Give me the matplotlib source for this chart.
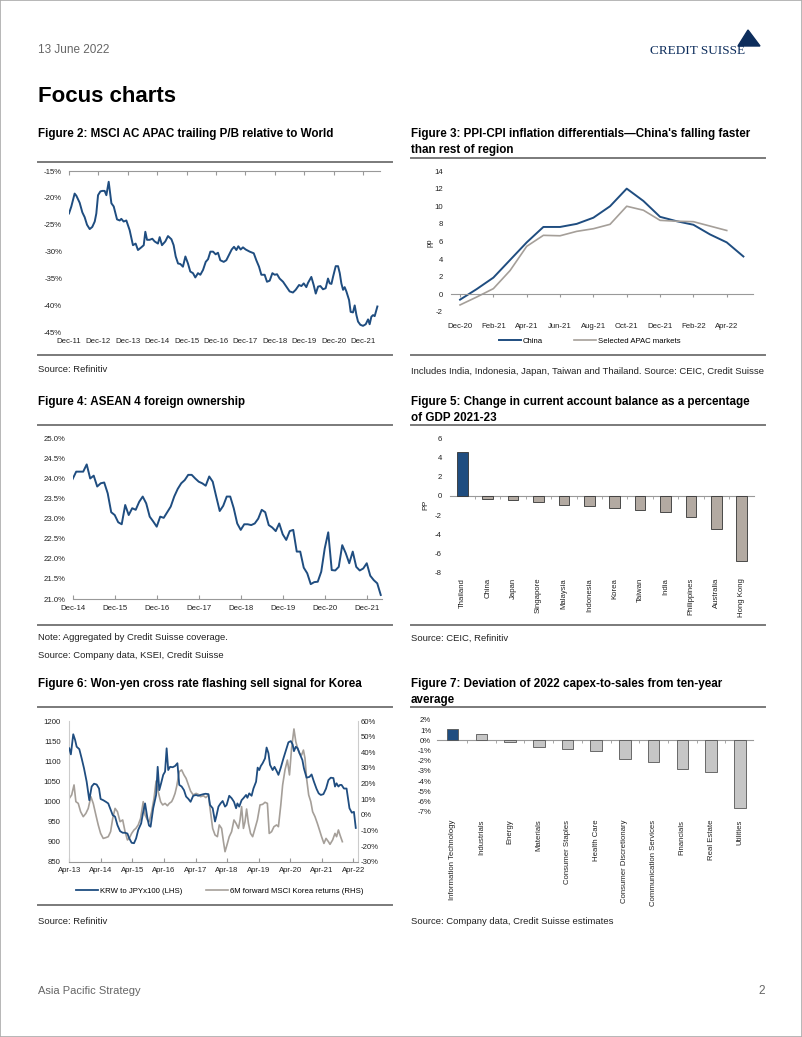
import numpy as np
import matplotlib
matplotlib.use("Agg")
import matplotlib.pyplot as plt
from matplotlib.lines import Line2D
from matplotlib.patches import Polygon, Rectangle

plt.rcParams['font.family'] = ['Liberation Sans', 'DejaVu Sans']
plt.rcParams['axes.unicode_minus'] = False

# ---------------- data ----------------
# Figure 2: MSCI AC APAC trailing P/B relative to World (months since Dec-11, %)
pb_month = [0, 0.95, 2.3, 3.0, 4.35, 5.45, 6.4, 7.35, 8.45, 9.5,
            10.5, 11.15, 11.85, 12.8, 13.6, 14.55, 15.25, 16.2, 17.3, 18.25,
            19.6, 20.7, 21.35, 22.3, 23.4, 24.75, 26.1, 27.2, 28.15, 29.5,
            30.5, 31.15, 31.85, 32.9, 34.0, 34.95, 36.3, 37.0, 37.95, 39.3,
            40.4, 41.8, 42.7, 43.55, 44.5, 45.45, 46.5, 47.5, 48.55, 49.5,
            50.6, 51.55, 52.65, 53.6, 54.7, 55.8, 56.75, 57.7, 58.8, 59.85,
            60.8, 61.75, 63.15, 64.2, 65.3, 66.4, 67.35, 68.3, 69.1, 70.05,
            71.0, 72.1, 73.75, 75.4, 76.45, 77.55, 78.5, 79.85, 80.8, 81.9,
            83.0, 83.95, 84.9, 85.95, 87.35, 88.7, 90.05, 91.4, 92.5, 93.9,
            94.85, 95.8, 96.85, 97.55, 98.9, 99.85, 100.7, 101.65, 102.6, 103.65,
            104.75, 105.7, 106.4, 107.1, 107.75, 108.85, 109.8, 110.5, 111.15, 111.85,
            112.5, 113.2, 114.3, 114.95, 115.9, 116.6, 117.3, 117.95, 118.9, 120.0,
            121.1, 122.05, 122.7, 123.4, 124.1, 124.75, 125.85]
pb_value = [-22.9, -21.6, -19.2, -19.6, -20.9, -22.7, -23.6, -25.0, -25.8, -25.4,
            -24.4, -22.9, -19.5, -18.8, -18.7, -18.7, -19.5, -17.0, -21.0, -21.6,
            -24.0, -24.2, -23.9, -24.4, -24.2, -26.0, -28.8, -28.5, -29.7, -29.2,
            -28.8, -26.3, -27.8, -27.8, -27.6, -28.1, -28.5, -27.3, -28.8, -28.1,
            -27.1, -27.7, -28.8, -30.9, -32.2, -32.3, -32.8, -30.9, -32.2, -33.7,
            -34.0, -34.8, -34.0, -34.3, -33.4, -31.9, -31.4, -30.0, -30.0, -30.5,
            -30.2, -31.6, -31.9, -31.6, -30.6, -29.6, -29.1, -29.7, -29.0, -29.6,
            -29.2, -29.6, -30.0, -30.3, -31.6, -32.8, -34.3, -34.3, -35.6, -35.4,
            -34.0, -34.3, -34.2, -35.0, -35.6, -36.5, -37.4, -37.6, -37.1, -36.2,
            -36.4, -35.9, -36.6, -35.8, -34.7, -36.2, -37.8, -36.5, -36.4, -37.0,
            -36.8, -35.0, -35.9, -36.0, -34.7, -32.7, -32.7, -34.0, -35.9, -37.1,
            -36.6, -37.4, -39.0, -41.2, -41.3, -40.0, -41.8, -43.0, -43.6, -43.8,
            -43.5, -42.6, -43.5, -42.1, -41.8, -42.0, -40.2]
pb_ticks = ['Dec-11', 'Dec-12', 'Dec-13', 'Dec-14', 'Dec-15', 'Dec-16',
            'Dec-17', 'Dec-18', 'Dec-19', 'Dec-20', 'Dec-21']

# Figure 3: PPI-CPI differential, monthly from Dec-20 (pp)
ppi_china = [-0.6, 0.6, 1.9, 3.9, 5.9, 7.65, 7.65, 8.0, 8.7, 10.0,
             12.0, 10.6, 8.8, 8.3, 7.9, 6.8, 5.9, 4.3]
ppi_apac = [-1.2, -0.3, 0.65, 2.7, 5.45, 6.7, 6.65, 7.15, 7.45, 7.95,
            10.0, 9.55, 8.4, 8.3, 8.25, 7.75, 7.25]
ppi_ticks = ['Dec-20', 'Feb-21', 'Apr-21', 'Jun-21', 'Aug-21', 'Oct-21',
             'Dec-21', 'Feb-22', 'Apr-22']

# Figure 4: ASEAN 4 foreign ownership, monthly from Dec-14 (%)
asean_value = [23.99, 24.17, 24.17, 24.17, 24.35, 24.0, 24.07, 23.8, 23.88, 23.9,
               23.63, 23.16, 23.09, 22.91, 22.86, 23.34, 23.09, 23.26, 23.22, 23.42,
               23.55, 23.38, 23.05, 22.93, 22.8, 23.05, 23.02, 23.16, 23.3, 23.55,
               23.74, 23.88, 23.96, 24.09, 24.09, 24.0, 23.92, 23.88, 23.82, 24.05,
               23.92, 23.55, 23.19, 23.32, 23.55, 23.55, 23.26, 22.88, 22.72, 22.86,
               22.86, 22.84, 22.88, 23.0, 23.22, 23.16, 22.84, 22.78, 22.69, 22.88,
               22.61, 22.47, 22.69, 22.72, 22.18, 22.18, 21.78, 21.64, 21.37, 21.42,
               21.43, 21.68, 22.26, 22.66, 21.72, 21.71, 21.8, 22.34, 22.14, 21.89,
               22.18, 21.8, 21.71, 21.76, 21.89, 21.58, 21.47, 21.39, 21.1]
asean_ticks = ['Dec-14', 'Dec-15', 'Dec-16', 'Dec-17', 'Dec-18',
               'Dec-19', 'Dec-20', 'Dec-21']

# Figure 5: change in current account balance 2021-23 (pp of GDP)
ca_country = ['Thailand', 'China', 'Japan', 'Singapore', 'Malaysia', 'Indonesia',
              'Korea', 'Taiwan', 'India', 'Philippines', 'Australia', 'Hong Kong']
ca_change = [4.6, -0.35, -0.45, -0.6, -0.95, -1.05, -1.25, -1.45, -1.65,
             -2.15, -3.4, -6.8]

# Figure 6: KRW to JPYx100 (LHS) and 6M fwd MSCI Korea returns (RHS), months since Apr-13
krw_month = [0, 0.6, 1.5, 2.2, 2.8, 3.8, 4.7, 5.6, 6.6, 7.6,
             8.5, 9.4, 10.4, 11.3, 11.9, 12.9, 13.9, 14.8, 15.5, 16.5,
             17.4, 18.3, 19.3, 20.3, 21.2, 22.1, 22.8, 23.7, 24.6, 25.4,
             26.2, 27.3, 28.1, 28.8, 29.7, 30.3, 30.9, 31.9, 33.0, 33.6,
             34.2, 34.9, 35.7, 36.4, 37.0, 37.6, 38.3, 39.3, 40.2, 41.1,
             41.8, 42.7, 43.6, 44.4, 45.3, 46.1, 47.1, 48.2, 49.0, 49.9,
             51.0, 51.8, 52.9, 53.5, 54.5, 55.4, 56.0, 56.7, 57.5, 58.3,
             59.2, 59.8, 60.8, 61.7, 62.6, 63.4, 63.9, 64.6, 65.5, 66.2,
             67.2, 67.7, 68.4, 69.3, 70.0, 71.0, 71.6, 72.2, 72.8, 73.5,
             74.4, 75.0, 75.7, 76.3, 77.3, 78.0, 78.8, 79.5, 80.4, 81.4,
             82.4, 83.3, 84.2, 84.9, 85.4, 86.1, 86.8, 87.7, 88.6, 89.2,
             90.2, 91.3, 92.1, 93.0, 94.0, 94.8, 95.6, 96.6, 97.6, 98.5,
             99.4, 100.4, 101.0, 101.6, 102.3, 102.9, 103.5, 104.4, 105.4, 106.5,
             107.4, 108.2, 108.9]
krw_value = [1132, 1117, 1167, 1153, 1136, 1130, 1107, 1082, 1049, 1003,
             1037, 1044, 1042, 1032, 1006, 1003, 999, 995, 983, 966,
             962, 941, 926, 922, 922, 920, 908, 897, 896, 908,
             929, 945, 974, 995, 958, 940, 937, 983, 1016, 1086,
             1028, 1045, 1066, 1074, 1132, 1078, 1086, 1085, 1088, 1095,
             1041, 1037, 1028, 1012, 1006, 999, 1014, 1016, 1014, 1016,
             1018, 1019, 1018, 991, 983, 950, 966, 987, 995, 1001,
             987, 991, 1014, 1008, 999, 983, 995, 987, 1003, 1008,
             1016, 1009, 1020, 1014, 1032, 1049, 1084, 1078, 1088, 1095,
             1107, 1134, 1120, 1091, 1078, 1086, 1076, 1066, 1084, 1107,
             1128, 1147, 1150, 1142, 1125, 1136, 1132, 1117, 1103, 1082,
             1059, 1061, 1067, 1049, 1031, 1020, 1016, 1018, 1032, 1053,
             1059, 1058, 1037, 1045, 1037, 1041, 1041, 1032, 1032, 983,
             972, 974, 934]
kor_month = [0, 0.9, 1.8, 2.5, 3.4, 4.3, 5.3, 6.3, 7.2, 8.2,
             9.1, 10.1, 11.0, 11.9, 12.9, 13.9, 14.8, 15.7, 16.5, 17.4,
             18.3, 19.3, 20.3, 21.2, 22.1, 22.8, 23.7, 24.6, 25.3, 26.2,
             27.1, 28.1, 28.8, 29.7, 30.4, 31.3, 32.2, 33.0, 33.8, 34.7,
             35.5, 36.4, 37.3, 38.0, 38.9, 39.5, 40.2, 40.8, 41.8, 42.7,
             43.6, 44.4, 45.2, 46.1, 47.1, 48.2, 49.0, 49.9, 51.0, 51.9,
             52.9, 53.5, 54.5, 55.4, 56.3, 57.0, 57.9, 58.6, 59.2, 60.1,
             60.8, 61.7, 62.6, 63.4, 64.3, 64.9, 65.5, 66.2, 66.8, 67.4,
             68.1, 68.9, 69.7, 70.6, 71.5, 72.5, 73.5, 74.4, 75.3, 76.0,
             76.9, 77.8, 78.8, 79.5, 80.4, 81.1, 82.0, 82.9, 83.7, 84.5,
             85.4, 86.1, 86.8, 87.5, 88.3, 89.0, 89.6, 90.2, 91.0, 91.8,
             92.5, 93.4, 94.3, 95.1, 95.9, 96.8, 97.6, 98.5, 99.1, 100.1,
             101.0, 101.6, 102.3, 102.9, 103.8]
kor_return = [10.5, 12.7, 19.1, 8.4, 7.3, 2.0, -1.2, 0.9, 4.1, 11.6,
              7.3, -0.1, -6.5, -11.9, -15.1, -14.6, -14.0, -10.8, -2.3, 4.1,
              2.0, -4.4, -3.3, -10.8, -16.1, -15.1, -11.9, -9.7, -8.7, -6.5,
              -2.3, 8.4, -0.1, -3.3, -4.4, 2.0, 10.5, 21.6, 14.8, 8.4,
              6.3, 7.3, 5.8, 7.3, 8.4, 10.5, 13.7, 18.0, 27.6, 28.7,
              25.5, 23.3, 19.5, 15.2, 12.7, 13.7, 13.1, 11.6, 12.2, 11.0,
              12.7, 4.1, -8.7, -12.9, -14.0, -6.5, -8.7, -17.2, -23.6, -18.3,
              -14.0, -10.8, -3.3, -5.5, -8.7, -3.3, 5.2, -8.7, -4.4, 3.7,
              -5.5, -11.9, -14.0, -8.7, -3.3, 6.3, 6.7, 8.0, 7.3, -11.9,
              -10.8, -7.6, -6.5, -7.6, 6.3, 19.1, 28.7, 35.0, 25.5, 42.5,
              54.9, 46.8, 42.5, 39.3, 38.2, 41.4, 36.1, 23.3, 12.7, 8.4,
              2.0, -1.2, -5.5, -9.7, -14.0, -18.3, -15.1, -17.2, -18.9, -16.1,
              -11.9, -14.0, -9.7, -12.9, -17.2]
krw_ticks = ['Apr-13', 'Apr-14', 'Apr-15', 'Apr-16', 'Apr-17', 'Apr-18',
             'Apr-19', 'Apr-20', 'Apr-21', 'Apr-22']

# Figure 7: deviation of 2022 capex-to-sales from ten-year average (%)
capex_sector = ['Information Technology', 'Industrials', 'Energy', 'Materials',
                'Consumer Staples', 'Health Care', 'Consumer Discretionary',
                'Communication Services', 'Financials', 'Real Estate', 'Utilities']
capex_dev = [1.1, 0.6, -0.2, -0.65, -0.85, -1.0, -1.85, -2.15, -2.8, -3.15, -6.6]

# ---------------- page layout ----------------
W, H = 802, 1037
NAVY = '#1f4d80'
GREY_LINE = '#a59f99'
TXT = '#222222'
TICK = 5.6

fig = plt.figure(figsize=(W / 100, H / 100), dpi=100)


def px_axes(x0, y0, x1, y1):
    return fig.add_axes([x0 / W, 1 - y1 / H, (x1 - x0) / W, (y1 - y0) / H])


def ptext(x, y, s, **kw):
    kw.setdefault('va', 'center')
    fig.text(x / W, 1 - y / H, s, **kw)


def hline(x0, x1, y, color='#7a7a7a', lw=1.4):
    fig.add_artist(Line2D([x0 / W, x1 / W], [1 - y / H, 1 - y / H], color=color, lw=lw))


def clean(ax, keep=()):
    for s in ['left', 'right', 'top', 'bottom']:
        ax.spines[s].set_visible(s in keep)
        ax.spines[s].set_color('#999999')
        ax.spines[s].set_linewidth(0.8)
    ax.tick_params(labelsize=TICK, colors=TXT)
    ax.patch.set_alpha(0)


# page frame
fig.add_artist(Rectangle((0, 0), 1, 1, transform=fig.transFigure, fill=False,
                         edgecolor='#aaaaaa', lw=1.2))

# header / footer
ptext(38, 50, '13 June 2022', fontsize=8.5, color='#666666')
ptext(745, 51, 'CREDIT SUISSE', fontsize=9.5, color='#0d2d5c', ha='right',
      family=['Liberation Serif', 'DejaVu Serif'])
fig.add_artist(Polygon([[738 / W, 1 - 46 / H], [748 / W, 1 - 30 / H], [760 / W, 1 - 46 / H]],
                       closed=True, transform=fig.transFigure, color='#0d2d5c'))
ptext(38, 97, 'Focus charts', fontsize=16, fontweight='bold')
ptext(38, 991, 'Asia Pacific Strategy', fontsize=8, color='#666666')
ptext(765, 991, '2', fontsize=8.5, color='#666666', ha='right')

L0, L1, R0, R1 = 38, 392, 411, 765
TFS = 8.4
SFS = 6.8

# titles and rules
ptext(L0, 134, 'Figure 2: MSCI AC APAC trailing P/B relative to World', fontsize=TFS, fontweight='bold')
ptext(R0, 134, "Figure 3: PPI-CPI inflation differentials\u2014China's falling faster", fontsize=TFS, fontweight='bold')
ptext(R0, 150, 'than rest of region', fontsize=TFS, fontweight='bold')
hline(L0, L1, 162)
hline(R0, R1, 158)
hline(L0, L1, 355)
hline(R0, R1, 355)
ptext(L0, 370, 'Source: Refinitiv', fontsize=SFS, color=TXT)
ptext(R0, 371, 'Includes India, Indonesia, Japan, Taiwan and Thailand. Source: CEIC, Credit Suisse',
      fontsize=SFS, color=TXT)

ptext(L0, 402, 'Figure 4: ASEAN 4 foreign ownership', fontsize=TFS, fontweight='bold')
ptext(R0, 402, 'Figure 5: Change in current account balance as a percentage', fontsize=TFS, fontweight='bold')
ptext(R0, 418, 'of GDP 2021-23', fontsize=TFS, fontweight='bold')
hline(L0, L1, 425)
hline(R0, R1, 425)
hline(L0, L1, 625)
hline(R0, R1, 625)
ptext(L0, 638, 'Note: Aggregated by Credit Suisse coverage.', fontsize=SFS, color=TXT)
ptext(L0, 655, 'Source: Company data, KSEI, Credit Suisse', fontsize=SFS, color=TXT)
ptext(R0, 638, 'Source: CEIC, Refinitiv', fontsize=SFS, color=TXT)

ptext(L0, 684, 'Figure 6: Won-yen cross rate flashing sell signal for Korea', fontsize=TFS, fontweight='bold')
ptext(R0, 684, 'Figure 7: Deviation of 2022 capex-to-sales from ten-year', fontsize=TFS, fontweight='bold')
ptext(R0, 700, 'average', fontsize=TFS, fontweight='bold')
hline(L0, L1, 707)
hline(R0, R1, 707)
hline(L0, L1, 905)
ptext(L0, 921, 'Source: Refinitiv', fontsize=SFS, color=TXT)
ptext(R0, 921, 'Source: Company data, Credit Suisse estimates', fontsize=SFS, color=TXT)

# ---------------- Figure 2 ----------------
ax = px_axes(69, 171, 379.7, 332.3)
clean(ax, keep=('top',))
ax.plot(pb_month, pb_value, color=NAVY, lw=1.4)
ax.set_xlim(0, 126.8)
ax.set_ylim(-45, -15)
ax.set_xticks(np.arange(len(pb_ticks)) * 12)
ax.set_xticklabels(pb_ticks)
ax.tick_params(axis='x', top=True, bottom=False, labeltop=False, labelbottom=True,
               direction='in', length=3, color='#999999', pad=4)
ax.set_yticks(np.arange(-45, -14, 5))
ax.set_yticklabels(['%d%%' % v for v in np.arange(-45, -14, 5)])
ax.tick_params(axis='y', length=0, pad=5)

# ---------------- Figure 3 ----------------
ax = px_axes(450.7, 171, 753.4, 312)
clean(ax, keep=('bottom',))
ax.spines['bottom'].set_position(('data', 0))
ax.plot(np.arange(len(ppi_china)), ppi_china, color=NAVY, lw=1.4, label='China')
ax.plot(np.arange(len(ppi_apac)), ppi_apac, color=GREY_LINE, lw=1.2, label='Selected APAC markets')
ax.set_xlim(-0.56, 17.6)
ax.set_ylim(-2, 14)
ax.set_xticks(np.arange(len(ppi_ticks)) * 2)
ax.set_xticklabels(ppi_ticks)
ax.tick_params(axis='x', length=2.5, direction='out', color='#999999', pad=18)
ax.set_yticks(np.arange(-2, 15, 2))
ax.tick_params(axis='y', length=0, pad=5.5)
ptext(430, 243, 'pp', fontsize=TICK, rotation=90, ha='center', color=TXT)
fig.legend(*ax.get_legend_handles_labels(), loc='center', bbox_to_anchor=(590 / W, 1 - 341 / H),
           ncol=2, frameon=False, fontsize=TICK, handlelength=2.8, columnspacing=4,
           handletextpad=0.3)

# ---------------- Figure 4 ----------------
ax = px_axes(72.7, 438.3, 381.8, 599)
clean(ax, keep=('bottom',))
ax.plot(np.arange(len(asean_value)), asean_value, color=NAVY, lw=1.4)
ax.set_xlim(0, 88.3)
ax.set_ylim(21, 25)
ax.set_xticks(np.arange(len(asean_ticks)) * 12)
ax.set_xticklabels(asean_ticks)
ax.tick_params(axis='x', direction='in', length=3, color='#999999', pad=4)
ax.set_yticks(np.arange(21, 25.01, 0.5))
ax.set_yticklabels(['%.1f%%' % v for v in np.arange(21, 25.01, 0.5)])
ax.tick_params(axis='y', length=0, pad=5.5)

# ---------------- Figure 5 ----------------
ax = px_axes(449.6, 438.3, 754.4, 572.7)
clean(ax, keep=('bottom',))
ax.spines['bottom'].set_position(('data', 0))
ca_colors = [NAVY] + ['#b3aaa2'] * (len(ca_country) - 1)
ax.bar(np.arange(len(ca_country)), ca_change, width=0.42, color=ca_colors,
       edgecolor='#333333', lw=0.6, zorder=3)
ax.set_xlim(-0.5, 11.5)
ax.set_ylim(-8, 6)
ax.set_xticks(np.arange(len(ca_country)))
ax.set_xticklabels(ca_country, rotation=90, va='top', ha='center')
ax.set_xticks(np.arange(len(ca_country) - 1) + 0.5, minor=True)
ax.tick_params(axis='x', which='major', length=0, pad=59)
ax.tick_params(axis='x', which='minor', length=2.5, direction='out', color='#999999')
ax.set_yticks(np.arange(-8, 7, 2))
ax.tick_params(axis='y', length=0, pad=5.5)
ptext(426, 505, 'PP', fontsize=TICK, rotation=90, ha='center', color=TXT)

# ---------------- Figure 6 ----------------
ax = px_axes(69.3, 721, 358.4, 861.7)
clean(ax, keep=('bottom', 'left', 'right'))
ax.spines['left'].set_color('#cccccc')
ax.spines['right'].set_color('#cccccc')
l1, = ax.plot(krw_month, krw_value, color=NAVY, lw=1.3, zorder=3)
ax.set_xlim(0, 109.9)
ax.set_ylim(850, 1200)
ax.set_xticks(np.arange(len(krw_ticks)) * 12)
ax.set_xticklabels(krw_ticks)
ax.tick_params(axis='x', direction='in', length=3, color='#999999', pad=4)
ax.set_yticks(np.arange(850, 1201, 50))
ax.tick_params(axis='y', length=0, pad=6)
ax2 = ax.twinx()
clean(ax2)
l2, = ax2.plot(kor_month, kor_return, color=GREY_LINE, lw=1.2, zorder=2)
ax2.set_ylim(-30, 60)
ax2.set_yticks(np.arange(-30, 61, 10))
ax2.set_yticklabels(['%d%%' % v for v in np.arange(-30, 61, 10)])
ax2.tick_params(axis='y', length=0, pad=1.5)
ax.set_zorder(ax2.get_zorder() + 1)
fig.legend([l1, l2], ['KRW to JPYx100 (LHS)', '6M forward MSCI Korea returns (RHS)'],
           loc='center', bbox_to_anchor=(220 / W, 1 - 891 / H), ncol=2, frameon=False,
           fontsize=TICK, handlelength=2.8, columnspacing=3, handletextpad=0.3)

# ---------------- Figure 7 ----------------
ax = px_axes(436.6, 720, 753, 811.7)
clean(ax, keep=('bottom',))
ax.spines['bottom'].set_position(('data', 0))
capex_colors = [NAVY] + ['#c6c6c6'] * (len(capex_sector) - 1)
ax.bar(np.arange(len(capex_sector)), capex_dev, width=0.4, color=capex_colors,
       edgecolor='#555555', lw=0.6, zorder=3)
ax.set_xlim(-0.56, 10.46)
ax.set_ylim(-7, 2)
ax.set_xticks(np.arange(len(capex_sector)))
ax.set_xticklabels(capex_sector, rotation=90, va='top', ha='center')
ax.set_xticks(np.arange(len(capex_sector) - 1) + 0.5, minor=True)
ax.tick_params(axis='x', which='major', length=0, pad=57)
ax.tick_params(axis='x', which='minor', length=2.5, direction='out', color='#999999')
ax.set_yticks(np.arange(-7, 3, 1))
ax.set_yticklabels(['%d%%' % v for v in np.arange(-7, 3, 1)])
ax.tick_params(axis='y', length=0, pad=4)

fig.savefig('out.png', dpi=100)
